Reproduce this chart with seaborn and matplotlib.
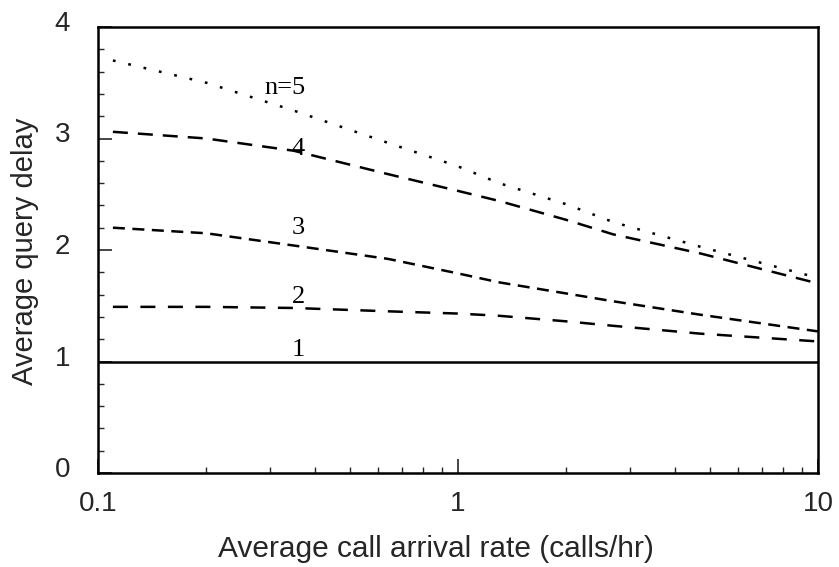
import numpy as np
import pandas as pd
import matplotlib
matplotlib.use("Agg")
import matplotlib.pyplot as plt
import matplotlib.transforms as mtransforms
from matplotlib.ticker import FixedLocator, FixedFormatter, MultipleLocator, LogLocator, NullFormatter
import seaborn as sns

# Data
rate = [0.11, 0.2, 0.35, 0.64, 1.0, 1.3, 2.0, 2.7, 4.7, 10.0]
rate_n1 = [0.1, 10.0]
delay_n1 = [1.00, 1.00]
delay_n2 = [1.49, 1.49, 1.48, 1.45, 1.43, 1.41, 1.36, 1.32, 1.25, 1.18]
delay_n3 = [2.20, 2.15, 2.04, 1.92, 1.79, 1.71, 1.61, 1.54, 1.42, 1.27]
delay_n4 = [3.06, 3.00, 2.89, 2.68, 2.53, 2.44, 2.27, 2.14, 1.97, 1.70]
delay_n5 = [3.70, 3.50, 3.25, 2.96, 2.75, 2.60, 2.41, 2.25, 2.03, 1.75]

series_names = ["1", "2", "3", "4", "5"]
series_labels = ["1", "2", "3", "4", "n=5"]
label_x = [0.36, 0.36, 0.36, 0.36, 0.33]
label_y = [1.10, 1.58, 2.20, 2.91, 3.45]

x_ticks = [0.1, 1, 10]
x_tick_labels = ["0.1", "1", "10"]
y_ticks = [0, 1, 2, 3, 4]
y_tick_labels = ["0", "1", "2", "3", "4"]

series_x = [rate_n1, rate, rate, rate, rate]
series_y = [delay_n1, delay_n2, delay_n3, delay_n4, delay_n5]
frames = []
for name, xs, ys in zip(series_names, series_x, series_y):
    frames.append(pd.DataFrame({"rate": xs, "delay": ys, "n": name}))
df = pd.concat(frames, ignore_index=True)

sns.set_style("ticks")
plt.rcParams["font.family"] = ["Liberation Sans", "DejaVu Sans"]

fig = plt.figure(figsize=(8.39, 5.67), dpi=100)
ax = fig.add_axes([98 / 839, 1 - 473 / 567, (818 - 98) / 839, (473 - 27) / 567])

dash_map = {"1": "", "2": (6, 5), "3": (4.8, 3), "4": (6, 4), "5": (1.1, 5.2)}
sns.lineplot(data=df, x="rate", y="delay", style="n", dashes=dash_map,
             color="black", linewidth=1.8, legend=False, ax=ax, estimator=None)

ax.set_xscale("log")
ax.set_xlim(0.1, 10)
ax.set_ylim(0, 4)

ax.xaxis.set_major_locator(FixedLocator(x_ticks))
ax.xaxis.set_major_formatter(FixedFormatter(x_tick_labels))
ax.xaxis.set_minor_locator(LogLocator(base=10, subs=np.arange(2, 10)))
ax.xaxis.set_minor_formatter(NullFormatter())
ax.yaxis.set_major_locator(FixedLocator(y_ticks))
ax.yaxis.set_major_formatter(FixedFormatter(y_tick_labels))
ax.yaxis.set_minor_locator(MultipleLocator(0.2))

ax.tick_params(axis="both", which="major", direction="in", length=10, width=1.2,
               labelsize=20, top=False, right=False)
ax.tick_params(axis="both", which="minor", direction="in", length=4.5, width=1.0,
               top=False, right=False)
ax.tick_params(axis="x", which="major", pad=13)
ax.tick_params(axis="y", which="major", pad=20)

# y tick labels sit slightly above their ticks in the reference
offset = mtransforms.ScaledTranslation(0, 0.06, fig.dpi_scale_trans)
for lbl in ax.get_yticklabels():
    lbl.set_transform(lbl.get_transform() + offset)

for sp in ax.spines.values():
    sp.set_linewidth(1.8)
    sp.set_color("black")

ax.set_xlabel("Average call arrival rate (calls/hr)", fontsize=21.5)
ax.set_ylabel("Average query delay", fontsize=21)
ax.xaxis.set_label_coords(0.469, -0.170)
ax.yaxis.set_label_coords(-0.101, 0.496)
ax.xaxis.label.set_va("center")
ax.yaxis.label.set_va("center")

for lab, lx, ly in zip(series_labels, label_x, label_y):
    ax.text(lx, ly, lab, fontsize=19, family=["Liberation Serif", "DejaVu Serif"],
            ha="center", va="center", color="black")

fig.savefig("out.png", dpi=100)
